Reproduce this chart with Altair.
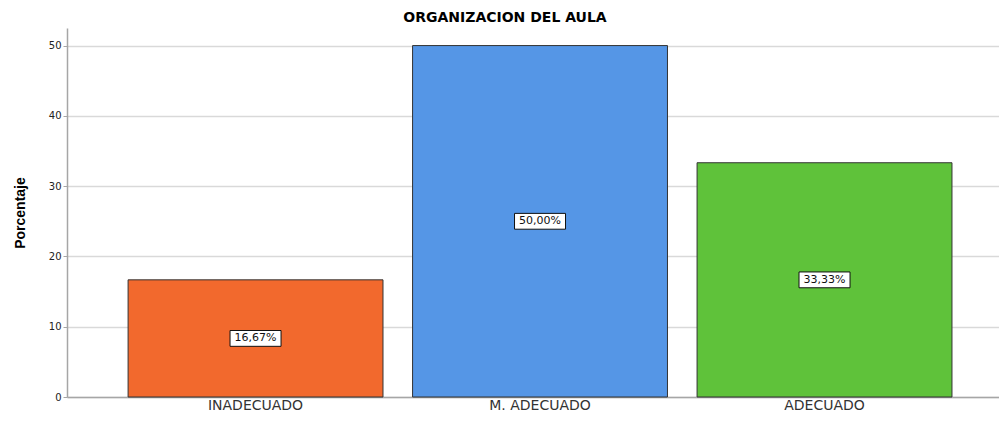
import altair as alt
import pandas as pd

categories = ["INADECUADO", "M. ADECUADO", "ADECUADO"]
values = [16.67, 50.00, 33.33]
labels = ["16,67%", "50,00%", "33,33%"]
colors = ["#F2692D", "#5596E6", "#5FC23A"]

df = pd.DataFrame({"cat": categories, "val": values, "lab": labels,
                   "half": [v / 2 for v in values]})

x = alt.X("cat:N", sort=categories, title=None,
          scale=alt.Scale(paddingInner=0.104, paddingOuter=0.19, align=0.565),
          axis=alt.Axis(labelAngle=0, labelFontSize=14, labelColor="#333333",
                        labelFont="DejaVu Sans", ticks=False,
                        domainColor="#a6a6a6", domainWidth=1.5, labelPadding=1))

y_scale = alt.Scale(domain=[0, 52.5], nice=False)

bars = alt.Chart(df).mark_bar(stroke="#333333", strokeWidth=1).encode(
    x=x,
    y=alt.Y("val:Q", scale=y_scale, title="Porcentaje",
            axis=alt.Axis(values=[0, 10, 20, 30, 40, 50], labelFontSize=10,
                          labelFont="DejaVu Sans", labelColor="#222222",
                          tickSize=4, tickColor="#a6a6a6",
                          domainColor="#a6a6a6", domainWidth=1.5,
                          gridColor="#d9d9d9", gridWidth=1.5,
                          titleFont="'Liberation Sans Narrow', 'Liberation Sans', sans-serif",
                          titleFontSize=14,
                          titleFontWeight="bold", titleColor="#000000",
                          titlePadding=21)),
    color=alt.Color("cat:N", sort=categories,
                    scale=alt.Scale(domain=categories, range=colors), legend=None),
)

boxes = alt.Chart(df).mark_point(
    shape="M-1,-0.31H1V0.31H-1Z", filled=True, fill="white", stroke="#111111",
    strokeWidth=1, opacity=1, size=2601).encode(
    x=alt.X("cat:N", sort=categories),
    y=alt.Y("half:Q", scale=y_scale),
)

texts = alt.Chart(df).mark_text(font="DejaVu Sans", fontSize=11, color="#111111").encode(
    x=alt.X("cat:N", sort=categories),
    y=alt.Y("half:Q", scale=y_scale),
    text="lab:N",
)

chart = alt.layer(bars, boxes, texts).properties(
    width=932, height=369,
    title=alt.TitleParams("ORGANIZACION DEL AULA", font="DejaVu Sans",
                          fontSize=14, fontWeight="bold", color="#000000",
                          dx=-28, offset=3),
    autosize=alt.AutoSizeParams(type="none"),
    padding={"left": 59, "top": 20, "right": 0, "bottom": 18},
).configure_view(stroke=None)

chart.save("out.html", embed_options={"renderer": "svg", "actions": False})
